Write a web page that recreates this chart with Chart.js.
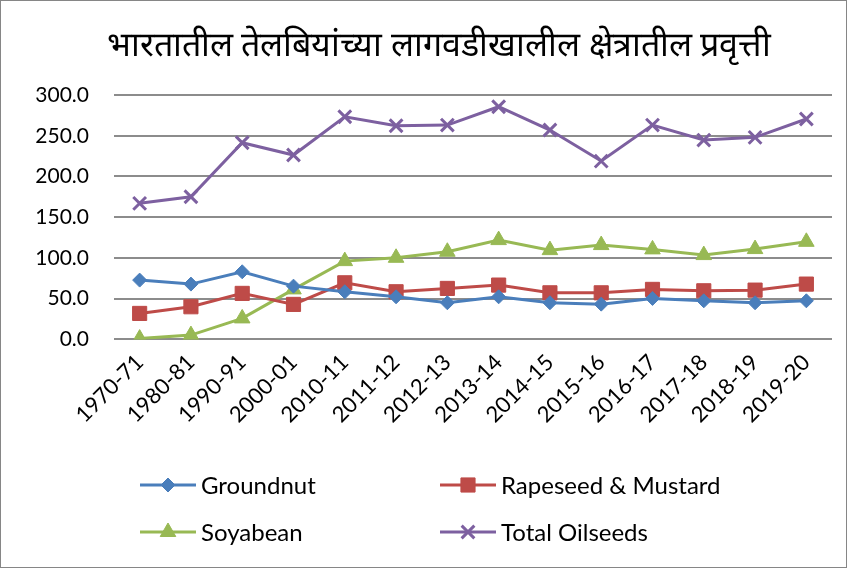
<!DOCTYPE html>
<html>
<head>
<meta charset="utf-8">
<script src="https://cdn.jsdelivr.net/npm/chart.js@4.4.1/dist/chart.umd.min.js"></script>
<style>
    body { margin: 0; background: #fff; }
    #box { position: absolute; left: 0; top: 0; width: 845px; height: 566px; border: 1px solid #868686; }
</style>
</head>
<body>
<div id="box"><canvas id="chart"></canvas></div>
<script>
// Area under oilseeds (lakh ha)
const years = ["1970-71", "1980-81", "1990-91", "2000-01", "2010-11", "2011-12", "2012-13",
    "2013-14", "2014-15", "2015-16", "2016-17", "2017-18", "2018-19", "2019-20"];
const groundnut = [72.8, 67.9, 83.0, 65.4, 58.5, 52.3, 45.0, 52.3, 45.0, 43.3, 50.3, 47.4, 45.0, 47.4];
const rapeseed = [31.9, 40.1, 56.5, 43.0, 69.5, 58.5, 62.6, 66.7, 57.2, 57.2, 61.4, 59.7, 60.5, 67.9];
const soyabean = [1.0, 5.3, 25.8, 61.4, 96.1, 100.2, 107.6, 121.9, 109.6, 115.8, 110.5, 103.5, 110.9, 119.8];
const totalOilseeds = [167.0, 175.1, 241.4, 226.3, 273.3, 262.3, 263.1, 285.6, 257.0, 218.9, 263.1, 244.7, 248.0, 270.5];
const yTicks = [0, 50, 100, 150, 200, 250, 300];
const chartTitle = "भारतातील तेलबियांच्या लागवडीखालील क्षेत्रातील प्रवृत्ती";

const FONT = "Lato, 'Liberation Sans', sans-serif";

/**
 * Draws the title a little right of centre, as in the original.
 */
const titleText = {
    id: "titleText",
    afterDraw(chart) {
        const ctx = chart.ctx;
        ctx.save();
        ctx.fillStyle = "#000";
        ctx.font = "34px " + FONT;
        ctx.textAlign = "center";
        ctx.textBaseline = "middle";
        ctx.fillText(chartTitle, 438, 44);
        ctx.restore();
    }
};

/**
 * Draws the legend as a 2 x 2 grid (line + marker + label) below the axis labels.
 */
const gridLegend = {
    id: "gridLegend",
    afterDraw(chart) {
        const ctx = chart.ctx;
        const cols = [139, 439];
        const rows = [484, 531];
        chart.data.datasets.forEach((ds, i) => {
            const x = cols[i % 2];
            const y = rows[Math.floor(i / 2)];
            ctx.save();
            ctx.strokeStyle = ds.borderColor;
            ctx.fillStyle = ds.backgroundColor;
            ctx.lineWidth = 3;
            ctx.beginPath();
            ctx.moveTo(x, y);
            ctx.lineTo(x + 56, y);
            ctx.stroke();
            ctx.lineWidth = ds.pointBorderWidth;
            Chart.helpers.drawPoint(ctx, {
                pointStyle: ds.pointStyle,
                radius: ds.pointRadius,
                borderWidth: ds.pointBorderWidth,
                rotation: 0
            }, x + 28, y);
            ctx.fillStyle = "#000";
            ctx.font = "24px " + FONT;
            ctx.textBaseline = "middle";
            ctx.fillText(ds.label, x + 61, y + 1);
            ctx.restore();
        });
    }
};

const makeSeries = (label, data, color, pointStyle, radius) => ({
    label,
    data,
    borderColor: color,
    backgroundColor: color,
    borderWidth: 3,
    pointStyle,
    pointRadius: radius,
    pointHoverRadius: radius,
    pointBorderWidth: pointStyle === "crossRot" ? 3 : 1,
    tension: 0
});

const canvas = document.getElementById("chart");
canvas.width = 845;
canvas.height = 566;

new Chart(canvas.getContext("2d"), {
    type: "line",
    data: {
        labels: years,
        datasets: [
            makeSeries("Groundnut", groundnut, "#4A7EBB", "rectRot", 7),
            makeSeries("Rapeseed & Mustard", rapeseed, "#BE4B48", "rect", 10),
            makeSeries("Soyabean", soyabean, "#98B954", "triangle", 9),
            makeSeries("Total Oilseeds", totalOilseeds, "#7D60A0", "crossRot", 9)
        ]
    },
    options: {
        responsive: false,
        animation: false,
        layout: { padding: { left: 0, right: 14, top: 94, bottom: 137 } },
        plugins: {
            legend: { display: false },
            tooltip: { enabled: false },
            title: { display: false }
        },
        scales: {
            x: {
                offset: true,
                grid: { display: false },
                border: { display: false },
                ticks: {
                    color: "#000",
                    font: { family: FONT, size: 22 },
                    minRotation: 45,
                    maxRotation: 45,
                    padding: 2
                }
            },
            y: {
                min: 0,
                max: 300,
                grid: { color: "#8C8C8C", lineWidth: 2, drawTicks: false },
                border: { display: false },
                afterBuildTicks: (axis) => { axis.ticks = yTicks.map(v => ({ value: v })); },
                afterFit: (axis) => { axis.width = 113; },
                ticks: {
                    color: "#000",
                    font: { family: FONT, size: 21 },
                    padding: 25,
                    callback: (v) => Number(v).toFixed(1)
                }
            }
        }
    },
    plugins: [titleText, gridLegend]
});
</script>
</body>
</html>
